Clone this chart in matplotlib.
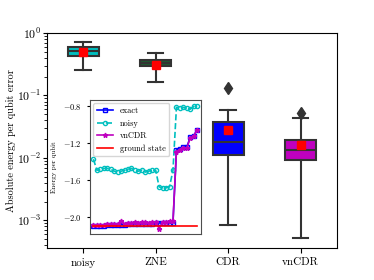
import numpy as np
import matplotlib
matplotlib.use('Agg')
import matplotlib.pyplot as plt

plt.rcParams['font.family'] = 'serif'
plt.rcParams['font.serif'] = ['cmr10']
plt.rcParams['mathtext.fontset'] = 'cm'
plt.rcParams['axes.formatter.use_mathtext'] = True
plt.rcParams['axes.unicode_minus'] = True

# box statistics (absolute energy per qubit error)
methods = ['noisy', 'ZNE', 'CDR', 'vnCDR']
box_colors = ['c', '#1f5a30', 'b', 'm']
whislo = [0.254, 0.164, 0.000853, 0.000515]
q1 = [0.425, 0.294, 0.01096, 0.00912]
med = [0.52, 0.334, 0.01816, 0.01333]
q3 = [0.601, 0.368, 0.0374, 0.01927]
whishi = [0.713, 0.483, 0.0575, 0.0440]
means = [0.500, 0.313, 0.0279, 0.01603]
fliers = [[], [], [0.1328], [0.0529]]

# inset: energy per qubit
step = list(range(31))
energy_exact = [-2.10, -2.10, -2.10, -2.10, -2.09, -2.09, -2.09, -2.09, -2.09, -2.09,
                -2.08, -2.08, -2.08, -2.08, -2.08, -2.08, -2.08, -2.08, -2.07, -2.07,
                -2.07, -2.07, -2.07, -2.07, -1.28, -1.27, -1.25, -1.25, -1.14, -1.13, -1.06]
energy_noisy = [-1.38, -1.50, -1.49, -1.48, -1.48, -1.49, -1.51, -1.52, -1.51, -1.50,
                -1.49, -1.48, -1.50, -1.51, -1.50, -1.52, -1.51, -1.50, -1.50, -1.68,
                -1.69, -1.69, -1.68, -1.50, -0.82, -0.83, -0.82, -0.83, -0.84, -0.81, -0.80]
energy_vncdr = [-2.09, -2.09, -2.09, -2.09, -2.08, -2.08, -2.08, -2.08, -2.05, -2.08,
                -2.07, -2.07, -2.06, -2.07, -2.06, -2.06, -2.07, -2.06, -2.06, -2.13,
                -2.06, -2.06, -2.05, -2.05, -1.30, -1.28, -1.26, -1.26, -1.15, -1.13, -1.06]
ground_energy = -2.105

fig = plt.figure(figsize=(3.74, 2.8), dpi=100)
ax = fig.add_axes([0.1257, 0.114, 0.775, 0.768])

stats = []
for i in range(len(methods)):
    stats.append(dict(label=methods[i], whislo=whislo[i], q1=q1[i], med=med[i],
                      q3=q3[i], whishi=whishi[i], mean=means[i], fliers=fliers[i]))

lc = '0.2'
bp = ax.bxp(stats, widths=0.43, patch_artist=True, showmeans=True,
            boxprops=dict(edgecolor=lc, linewidth=1.5),
            whiskerprops=dict(color=lc, linewidth=1.5),
            capprops=dict(color=lc, linewidth=1.5),
            medianprops=dict(color=lc, linewidth=1.5),
            meanprops=dict(marker='s', markerfacecolor='red', markeredgecolor='red', markersize=6),
            flierprops=dict(marker='d', markerfacecolor=lc, markeredgecolor=lc, markersize=6))
for patch, c in zip(bp['boxes'], box_colors):
    patch.set_facecolor(c)

ax.set_yscale('log')
ax.set_ylim(3.6e-4, 1)
ax.set_xlim(0.5, 4.5)
ax.set_ylabel('Absolute energy per qubit error', fontsize=7.4)
ax.yaxis.set_label_coords(-0.107, 0.5)
ax.tick_params(axis='x', labelsize=8)
ax.tick_params(axis='y', which='major', labelsize=8.5, length=3, pad=1)
ax.tick_params(axis='y', which='minor', length=2)

# inset
axin = fig.add_axes([0.2406, 0.164, 0.2968, 0.479])
axin.plot(step, energy_exact, '-s', color='b', markerfacecolor='none', markersize=3,
          linewidth=1.2, label='exact')
axin.plot(step, energy_noisy, '--o', color='c', markerfacecolor='none', markersize=3,
          linewidth=1.2, label='noisy')
axin.plot(step, energy_vncdr, '-*', color='m', markersize=3.5, linewidth=1.2, label='vnCDR')
axin.plot(step, [ground_energy] * len(step), '-', color='red', linewidth=1.2,
          label='ground state')
axin.set_xlim(-1, 31.1)
axin.set_ylim(-2.19, -0.74)
axin.set_yticks([-2.0, -1.6, -1.2, -0.8])
axin.set_xticks([])
axin.tick_params(axis='y', labelsize=6, length=2.5)
axin.set_ylabel('Energy per qubit', fontsize=5)
for s in axin.spines.values():
    s.set_color('0.3')
axin.legend(loc='upper left', fontsize=6, borderaxespad=0.4)

plt.savefig('out.png', dpi=100)
